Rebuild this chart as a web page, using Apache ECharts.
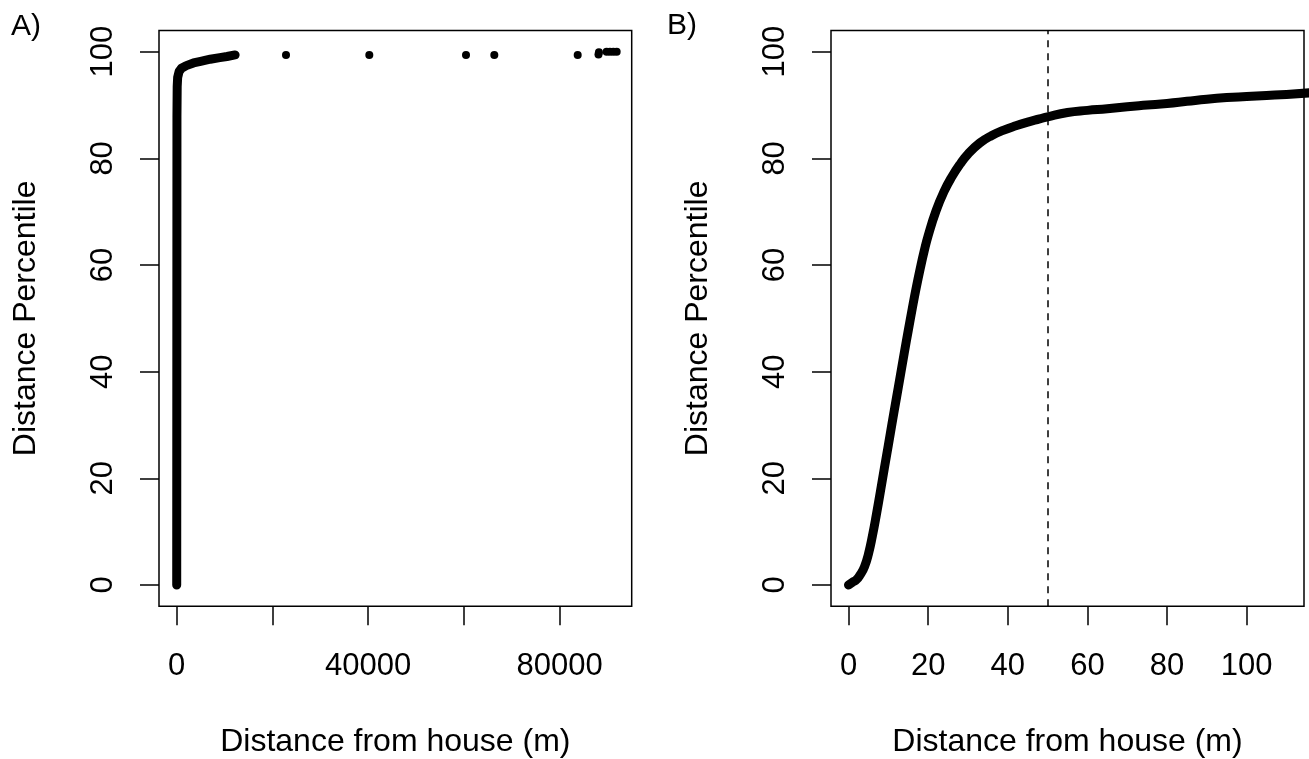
<!DOCTYPE html>
<html>
<head>
<meta charset="utf-8">
<script src="https://cdn.jsdelivr.net/npm/echarts@6/dist/echarts.min.js"></script>
<style>
html,body{margin:0;padding:0;background:#fff;}
#c{width:1309px;height:759px;}
</style>
</head>
<body>
<div id="c"></div>
<script>
// Panel A: main body of distance distribution (m, percentile)
const distA = [0, 50, 100, 200, 500, 1000, 2000, 3500, 5000, 7000, 9000, 10500, 12200];
const pctA  = [0, 87.8, 93.5, 95.2, 96.3, 96.9, 97.4, 97.9, 98.2, 98.6, 98.9, 99.1, 99.4];
// Panel A: isolated far-distance points
const distOut = [22830, 40230, 60430, 66340, 83760, 88100, 88200, 89800, 90500, 91200, 91900];
const pctOut  = [99.4, 99.4, 99.4, 99.4, 99.4, 99.5, 99.9, 100, 100, 100, 100];
// Panel B: zoom on 0-115 m
const distB = [0, 1, 2, 3, 4, 5, 6, 7, 8, 9, 10, 11, 12, 13, 14, 15, 16, 17, 18, 19, 20, 22, 24, 26, 28, 30, 33, 36, 39, 42, 45, 48, 50, 55, 60, 65, 70, 75, 80, 85, 90, 95, 100, 105, 110, 116];
const pctB  = [0, 0.5, 1.0, 2.0, 3.4, 5.8, 9.2, 13.2, 17.5, 21.9, 26.2, 30.6, 34.9, 39.2, 43.5, 47.7, 51.8, 55.7, 59.3, 62.6, 65.5, 70.2, 73.8, 76.6, 78.9, 80.8, 82.9, 84.3, 85.3, 86.1, 86.8, 87.4, 87.8, 88.6, 89.0, 89.3, 89.7, 90.0, 90.3, 90.7, 91.1, 91.4, 91.6, 91.8, 92.0, 92.3];
const yTicks = [0, 20, 40, 60, 80, 100];
const xTicksA = [0, 20000, 40000, 60000, 80000];
const xLabelsA = [0, 40000, 80000];
const xTicksB = [0, 20, 40, 60, 80, 100];
const cutoff = 50;
const xTitle = 'Distance from house (m)';
const yTitle = 'Distance Percentile';

const FONT = '"Liberation Sans", Arial, sans-serif';
const FS = 31;
const zip = (a, b) => a.map((v, i) => [v, b[i]]);

function xAxis(idx, min, max, ticks, labels) {
  return {
    type: 'value', gridIndex: idx, min: min, max: max, position: 'bottom',
    name: xTitle, nameLocation: 'middle', nameGap: 120,
    nameTextStyle: {fontFamily: FONT, fontSize: 32, color: '#000'},
    axisLine: {show: false, onZero: false},
    axisTick: {show: true, length: 19, inside: false, customValues: ticks, lineStyle: {color: '#000', width: 1.5}},
    axisLabel: {show: true, margin: 45, customValues: labels, formatter: v => String(v), fontFamily: FONT, fontSize: FS, color: '#000'},
    splitLine: {show: false}
  };
}
function yAxis(idx) {
  return {
    type: 'value', gridIndex: idx, min: -4, max: 104, position: 'left',
    name: yTitle, nameLocation: 'middle', nameGap: 117, nameRotate: 90,
    nameTextStyle: {fontFamily: FONT, fontSize: 32, color: '#000'},
    axisLine: {show: false, onZero: false},
    axisTick: {show: true, length: 19, inside: false, customValues: yTicks, lineStyle: {color: '#000', width: 1.5}},
    axisLabel: {show: true, margin: 40, rotate: 90, customValues: yTicks, formatter: v => String(v), fontFamily: FONT, fontSize: FS, color: '#000'},
    splitLine: {show: false}
  };
}

const chart = echarts.init(document.getElementById('c'), null, {renderer: 'canvas'});
chart.setOption({
  animation: false,
  backgroundColor: '#fff',
  grid: [
    {left: 159, top: 30.4, width: 472.7, height: 575.9, outerBoundsMode: 'none', containLabel: false, show: true, borderColor: '#000', borderWidth: 1.5, backgroundColor: 'transparent'},
    {left: 831, top: 30.4, width: 473, height: 575.9, outerBoundsMode: 'none', containLabel: false, show: true, borderColor: '#000', borderWidth: 1.5, backgroundColor: 'transparent'}
  ],
  xAxis: [
    xAxis(0, -3700, 95040, xTicksA, xLabelsA),
    xAxis(1, -4.4, 114.4, xTicksB, xTicksB)
  ],
  yAxis: [yAxis(0), yAxis(1)],
  graphic: [
    {type: 'text', left: 11, top: 12, style: {text: 'A)', fontFamily: FONT, fontSize: 30, fill: '#000'}},
    {type: 'text', left: 667, top: 11, style: {text: 'B)', fontFamily: FONT, fontSize: 30, fill: '#000'}}
  ],
  series: [
    {
      type: 'line', xAxisIndex: 0, yAxisIndex: 0, data: zip(distA, pctA),
      showSymbol: false, symbol: 'none', smooth: false, clip: true,
      lineStyle: {color: '#000', width: 9, cap: 'round', join: 'round'}
    },
    {
      type: 'scatter', xAxisIndex: 0, yAxisIndex: 0, data: zip(distOut, pctOut),
      symbol: 'circle', symbolSize: 8, itemStyle: {color: '#000', opacity: 1}
    },
    {
      type: 'line', xAxisIndex: 1, yAxisIndex: 1, data: zip(distB, pctB),
      showSymbol: false, symbol: 'none', smooth: 0.5, clip: true,
      lineStyle: {color: '#000', width: 9, cap: 'round', join: 'round'},
      markLine: {
        silent: true, symbol: 'none', label: {show: false},
        lineStyle: {color: '#000', width: 1.5, type: [7, 6]},
        data: [{xAxis: cutoff}]
      }
    }
  ]
});
</script>
</body>
</html>
